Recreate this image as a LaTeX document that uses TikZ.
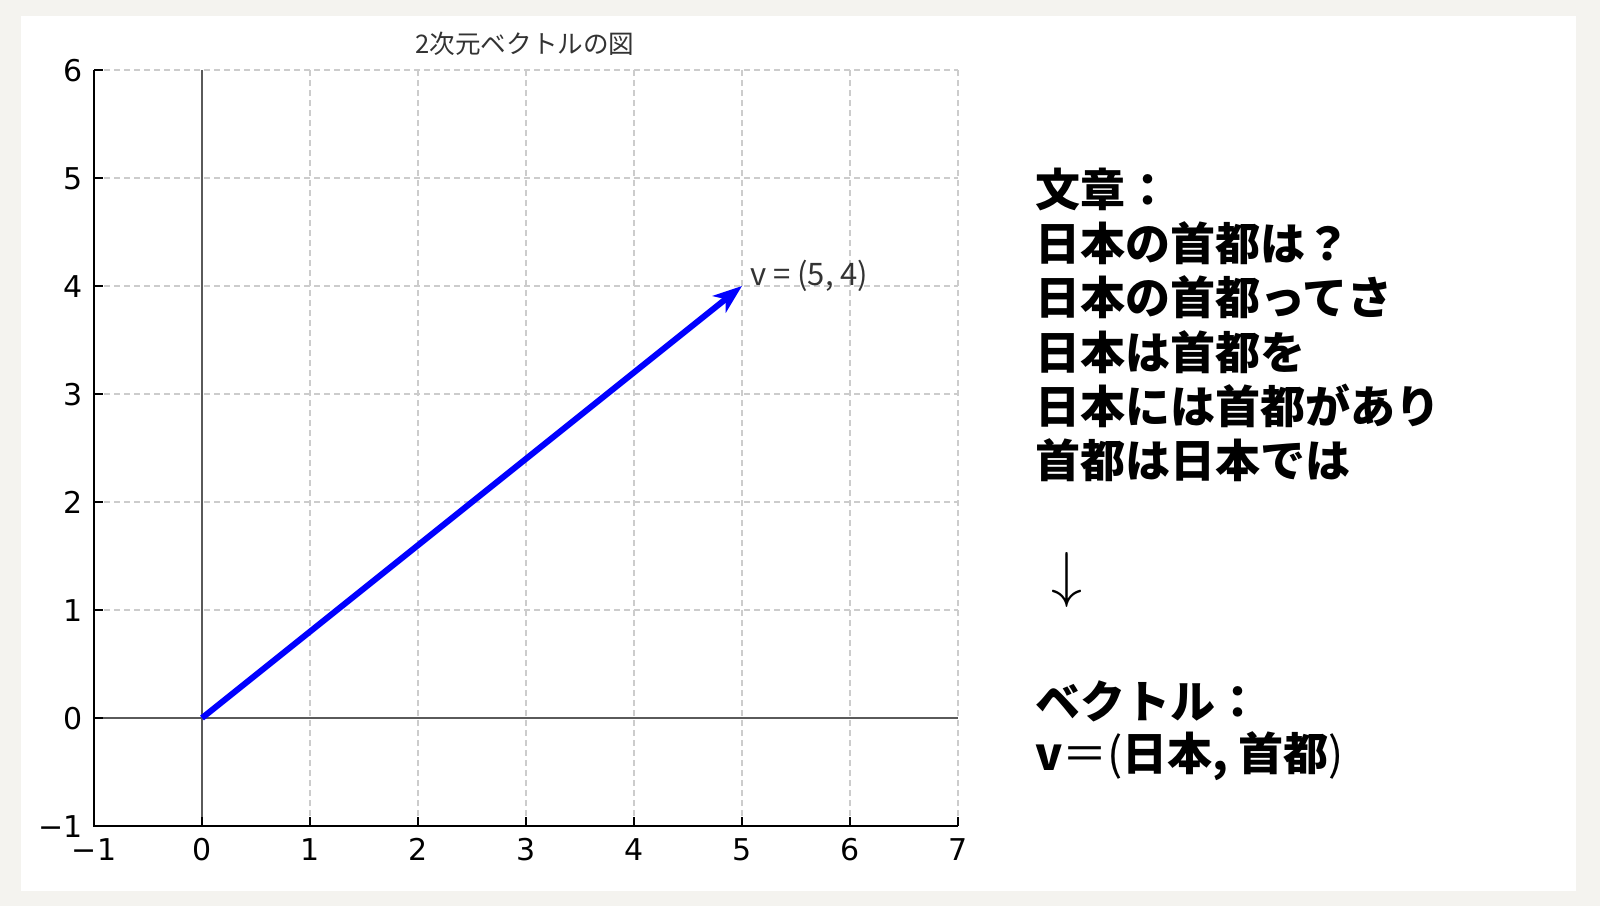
\documentclass[tikz,border=0pt]{standalone}
\usepackage{fontspec}
\setmainfont{DejaVu Sans}
\newfontfamily\jpfont{Noto Sans CJK JP}
\usetikzlibrary{arrows.meta}
\definecolor{pagebg}{HTML}{F4F3EF}
\definecolor{gridgray}{HTML}{CCCCCC}
\definecolor{zerogray}{HTML}{5A5A5A}
\definecolor{titlegray}{HTML}{333333}
\definecolor{vecblue}{HTML}{0000FF}
\tikzset{
  gridline/.style={draw=gridgray, line width=1.4pt, dash pattern=on 6pt off 4pt},
  zeroline/.style={draw=zerogray, line width=1.6pt},
  spine/.style={draw=black, line width=2.8pt},
  tickmark/.style={draw=black, line width=2.2pt},
  ticklabel/.style={font=\fontsize{30}{36}\selectfont, text=black, inner sep=0pt},
  vecarrow/.style={draw=vecblue, line width=6pt, -{Stealth[length=29pt, width=21pt, inset=8pt]}},
  veclabel/.style={font=\jpfont\fontsize{31}{36}\selectfont, text=titlegray, inner sep=0pt, anchor=west},
  titletext/.style={font=\jpfont\fontsize{25.6}{30}\selectfont, text=titlegray, inner sep=0pt},
  bigtext/.style={font=\jpfont\bfseries\fontsize{45}{52}\selectfont, text=black, inner sep=0pt, anchor=west},
}
\begin{document}
\begin{tikzpicture}[x=1pt, y=-1pt]
\useasboundingbox (0,0) rectangle (1600,906);
\fill[pagebg] (0,0) rectangle (1600,906);
\fill[white] (21,16) rectangle (1576,891);

% grid
\foreach \i in {-1,...,7} {
  \pgfmathsetmacro\px{202+108*\i}
  \draw[gridline] (\px,826) -- (\px,70);
}
\foreach \j in {-1,...,6} {
  \pgfmathsetmacro\py{718-108*\j}
  \draw[gridline] (94,\py) -- (958,\py);
}
% zero axes
\draw[zeroline] (94,718) -- (958,718);
\draw[zeroline] (202,826) -- (202,70);

% spines
\draw[spine] (94,70) -- (94,826) -- (958,826);

% ticks and labels
\foreach \i in {-1,...,7} {
  \pgfmathsetmacro\px{202+108*\i}
  \draw[tickmark] (\px,826) -- (\px,817);
  \node[ticklabel, anchor=base] (xl\i) at (\px,860) {\ifnum\i<0 −\the\numexpr-\i\relax\else\i\fi};
}
\foreach \j in {-1,...,6} {
  \pgfmathsetmacro\py{718-108*\j}
  \draw[tickmark] (94,\py) -- (103,\py);
  \node[ticklabel, anchor=base east] (yl\j) at (83,\py+11) {\ifnum\j<0 −\the\numexpr-\j\relax\else\j\fi};
}

% title
\node[titletext] (title) at (525,44) {2次元ベクトルの図};

% vector
\coordinate (O) at (202,718);
\coordinate (V) at (742,286);
\draw[vecarrow] (O) -- (V);
\node[veclabel] (vlab) at (750,276) {v = (5, 4)};

% right text
\node[bigtext] (t1) at (1035,189) {文章：};
\node[bigtext] (t2) at (1035,243.3) {日本の首都は？};
\node[bigtext] (t3) at (1035,297.6) {日本の首都ってさ};
\node[bigtext] (t4) at (1035,351.9) {日本は首都を};
\node[bigtext] (t5) at (1035,406.2) {日本には首都があり};
\node[bigtext] (t6) at (1035,460.5) {首都は日本では};
\node[inner sep=0pt] (down) at (1067,579.5) {\scalebox{6.2}{$\downarrow$}};
\node[bigtext] (t7) at (1035,701) {ベクトル：};
\node[bigtext] (t8) at (1035,756) {v{\mdseries ＝(}日本, 首都{\mdseries )}};
\end{tikzpicture}
\end{document}
